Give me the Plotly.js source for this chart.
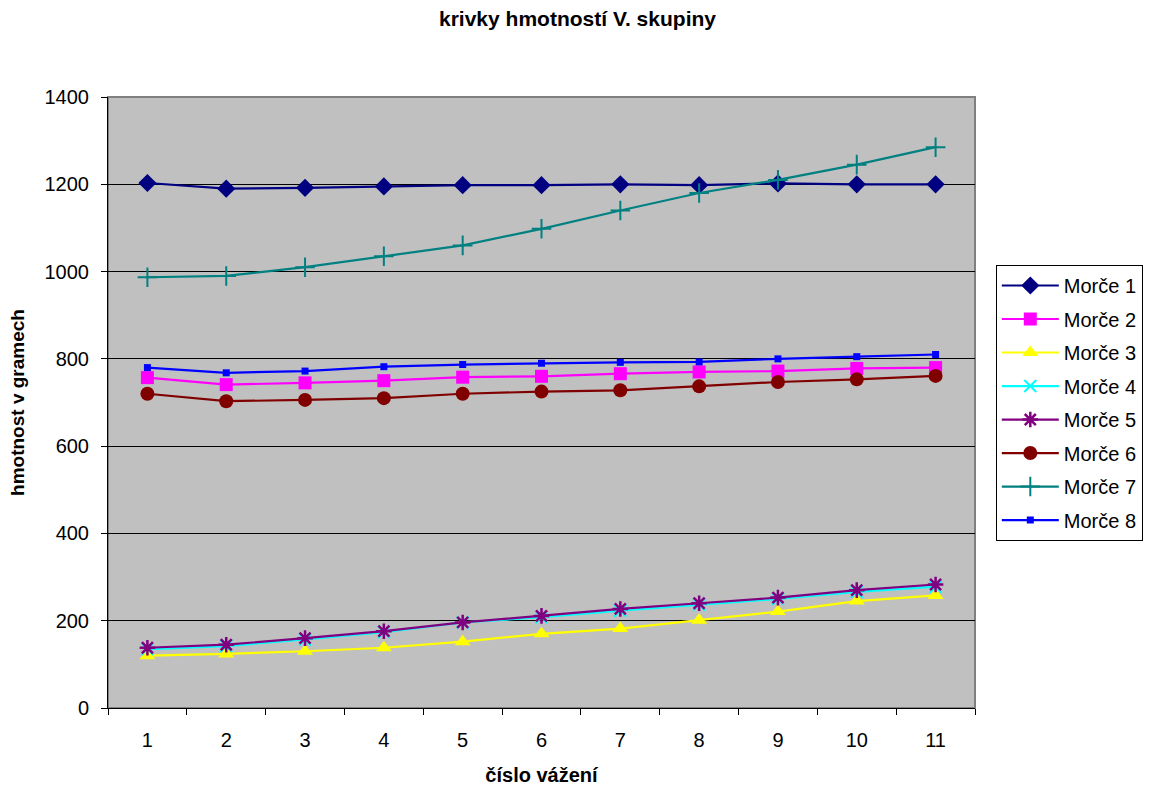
<!DOCTYPE html>
<html>
<head>
<meta charset="utf-8">
<script src="https://cdn.plot.ly/plotly-3.0.1.min.js"></script>
<style>html,body{margin:0;padding:0;background:#fff;}#chart{width:1155px;height:787px;}</style>
</head>
<body>
<div id="chart"></div>
<script>
const categories = ['1','2','3','4','5','6','7','8','9','10','11'];
const seriesNames = ['Morče 1','Morče 2','Morče 3','Morče 4','Morče 5','Morče 6','Morče 7','Morče 8'];
const morce1 = [1203, 1190, 1192, 1195, 1198, 1198, 1200, 1198, 1202, 1200, 1200];
const morce2 = [757, 741, 745, 750, 758, 760, 766, 770, 772, 778, 780];
const morce3 = [120, 124, 130, 138, 152, 170, 182, 201, 221, 245, 258];
const morce4 = [135, 142, 157, 174, 196, 208, 223, 237, 250, 266, 278];
const morce5 = [138, 145, 160, 176, 196, 211, 227, 240, 253, 270, 283];
const morce6 = [720, 703, 706, 710, 720, 725, 728, 737, 747, 753, 761];
const morce7 = [987, 990, 1010, 1035, 1060, 1098, 1140, 1180, 1210, 1245, 1285];
const morce8 = [780, 768, 772, 782, 787, 790, 792, 793, 800, 805, 810];
const yTicks = [0, 200, 400, 600, 800, 1000, 1200, 1400];

const allValues = [morce1, morce2, morce3, morce4, morce5, morce6, morce7, morce8];
const styles = [
  {color:'#000080', symbol:'diamond', size:14},
  {color:'#FF00FF', symbol:'square', size:13},
  {color:'#FFFF00', symbol:'triangle-up', size:14},
  {color:'#00FFFF', symbol:'x-thin', size:12, lw:2},
  {color:'#800080', symbol:'asterisk', size:13, lw:2.5},
  {color:'#800000', symbol:'circle', size:14},
  {color:'#008080', symbol:'cross-thin', size:14, lw:2},
  {color:'#0000FF', symbol:'square', size:7}
];

const traces = allValues.map((vals, i) => ({
  type:'scatter', mode:'lines+markers', name: seriesNames[i],
  x: categories, y: vals,
  legendgroup: 'g'+i,
  line:{color: styles[i].color, width: 2.2},
  marker:{symbol: styles[i].symbol, size: styles[i].size, color: styles[i].color,
          line:{color: styles[i].color, width: styles[i].lw || 0}}
}));

const FONT = 'Liberation Sans, Arial, sans-serif';
const layout = {
  width:1155, height:787,
  paper_bgcolor:'#ffffff', plot_bgcolor:'#C0C0C0',
  margin:{l:108, r:177, t:97, b:79},
  font:{family:FONT, size:20, color:'#000'},
  title:{text:'<b>krivky hmotností V. skupiny</b>', x:0.5, xref:'container', xanchor:'center', y:0.986, yref:'container', yanchor:'top',
         font:{size:21, family:FONT}},
  xaxis:{type:'category', range:[-0.5, 10.5], tickson:'boundaries', ticks:'outside', ticklen:6, tickcolor:'#000',
         showline:true, linecolor:'#000', linewidth:1, showgrid:false, zeroline:false,
         tickfont:{size:20}, ticklabelstandoff:14,
         title:{text:'<b>číslo vážení</b>', font:{size:20}, standoff:17}},
  yaxis:{range:[0,1400], tickvals:yTicks, ticks:'outside', ticklen:6, tickcolor:'#000',
         showline:true, linecolor:'#000', linewidth:1, showgrid:true, gridcolor:'#000', gridwidth:1,
         zeroline:false, tickfont:{size:20}, ticklabelstandoff:8,
         title:{text:'<b>hmotnost v gramech</b>', font:{size:19}, standoff:14}},
  legend:{x:1.024, xanchor:'left', y:0.725, yanchor:'top', bordercolor:'#000', borderwidth:1,
          bgcolor:'#fff', font:{size:20}, traceorder:'grouped', tracegroupgap:4.5, itemwidth:57},
  shapes:[{type:'rect', xref:'paper', yref:'paper', x0:0, x1:1, y0:0, y1:1,
           line:{color:'#808080', width:2}, layer:'below', fillcolor:'rgba(0,0,0,0)'}],
  showlegend:true
};

Plotly.newPlot('chart', traces, layout, {displayModeBar:false, staticPlot:true});
</script>
</body>
</html>
